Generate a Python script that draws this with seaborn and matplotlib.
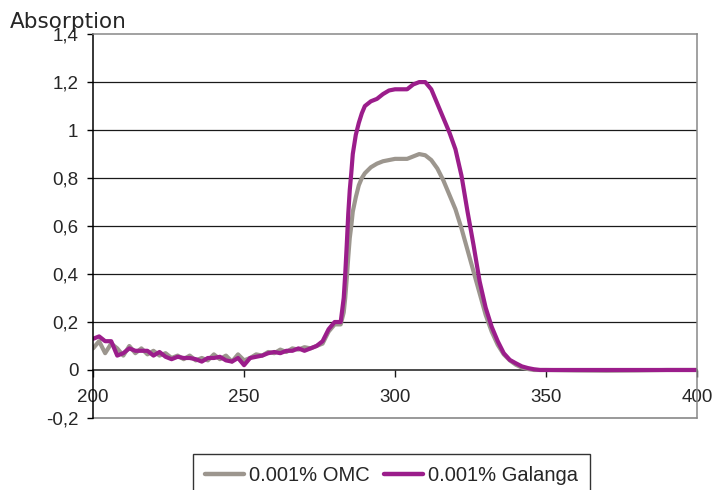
import pandas as pd
import numpy as np
import matplotlib
matplotlib.use("Agg")
import matplotlib.pyplot as plt
import seaborn as sns

# Absorption spectra
wavelength = [200, 202, 204, 206, 208, 210, 212, 214, 216, 218,
              220, 222, 224, 226, 228, 230, 232, 234, 236, 238,
              240, 242, 244, 246, 248, 250, 252, 254, 256, 258,
              260, 262, 264, 266, 268, 270, 272, 274, 276, 278,
              280, 282, 283, 283.5, 284, 284.5, 285, 285.5, 286, 287,
              288, 289, 290, 292, 294, 296, 298, 300, 302, 304,
              306, 308, 310, 312, 314, 316, 318, 320, 322, 324,
              326, 328, 330, 332, 334, 336, 338, 340, 342, 344,
              346, 348, 350, 360, 370, 380, 390, 400]

omc = [0.09, 0.12, 0.07, 0.11, 0.09, 0.06, 0.10, 0.07, 0.09, 0.065,
       0.08, 0.06, 0.07, 0.05, 0.06, 0.045, 0.06, 0.04, 0.05, 0.04,
       0.065, 0.045, 0.06, 0.035, 0.065, 0.04, 0.05, 0.065, 0.06, 0.075,
       0.07, 0.085, 0.075, 0.09, 0.085, 0.095, 0.09, 0.10, 0.11, 0.16,
       0.19, 0.19, 0.24, 0.30, 0.38, 0.47, 0.55, 0.60, 0.66, 0.72,
       0.77, 0.80, 0.82, 0.845, 0.86, 0.87, 0.875, 0.88, 0.88, 0.88,
       0.89, 0.90, 0.895, 0.875, 0.84, 0.79, 0.73, 0.67, 0.59, 0.50,
       0.41, 0.32, 0.23, 0.16, 0.105, 0.065, 0.04, 0.022, 0.01, 0.004,
       0.0, 0.0, 0.0, -0.002, -0.003, -0.002, 0.0, 0.0]

galanga = [0.13, 0.14, 0.12, 0.12, 0.06, 0.07, 0.09, 0.08, 0.08, 0.08,
           0.06, 0.075, 0.055, 0.045, 0.055, 0.05, 0.05, 0.045, 0.035, 0.05,
           0.05, 0.055, 0.04, 0.035, 0.05, 0.02, 0.05, 0.055, 0.06, 0.07,
           0.075, 0.07, 0.08, 0.08, 0.09, 0.08, 0.09, 0.10, 0.12, 0.17,
           0.20, 0.20, 0.30, 0.40, 0.52, 0.65, 0.75, 0.82, 0.90, 0.98,
           1.03, 1.07, 1.10, 1.12, 1.13, 1.15, 1.165, 1.17, 1.17, 1.17,
           1.19, 1.20, 1.20, 1.17, 1.11, 1.05, 0.99, 0.92, 0.81, 0.66,
           0.52, 0.37, 0.26, 0.18, 0.12, 0.07, 0.042, 0.028, 0.015, 0.008,
           0.003, 0.0, 0.0, 0.0, 0.0, 0.0, 0.0, 0.0]

series_names = ['0.001% OMC', '0.001% Galanga']
series_colors = ['#9c968e', '#9b1d8b']
x_ticks = [200, 250, 300, 350, 400]
y_ticks = [-0.2, 0, 0.2, 0.4, 0.6, 0.8, 1.0, 1.2, 1.4]
y_labels = ['-0,2', '0', '0,2', '0,4', '0,6', '0,8', '1', '1,2', '1,4']

df = pd.DataFrame({
    'wavelength': wavelength * 2,
    'absorption': omc + galanga,
    'sample': [series_names[0]] * len(omc) + [series_names[1]] * len(galanga),
})

sns.set_style('white')
plt.rcParams['font.family'] = ['Liberation Sans', 'DejaVu Sans']

fig = plt.figure(figsize=(7.16, 4.90), dpi=100)
ax = fig.add_axes([0.130, 0.147, 0.8435, 0.7834])

sns.lineplot(data=df, x='wavelength', y='absorption', hue='sample',
             palette=series_colors, hue_order=series_names,
             linewidth=3.0, sort=False, estimator=None, ax=ax, legend=False)

ax.set_xlim(200, 400)
ax.set_ylim(-0.2, 1.4)

# horizontal grid lines
for yv in [0.2, 0.4, 0.6, 0.8, 1.0, 1.2]:
    ax.axhline(yv, color='#1a1a1a', lw=0.9, zorder=0)
ax.axhline(-0.2, color='#888888', lw=1.2, zorder=0, clip_on=False)

ax.spines['bottom'].set_position(('data', 0))
ax.spines['bottom'].set_color('#1a1a1a')
ax.spines['bottom'].set_zorder(0)
ax.spines['left'].set_color('black')
ax.spines['top'].set_color('#888888')
ax.spines['right'].set_color('#888888')
for s in ax.spines.values():
    s.set_linewidth(1.1)

ax.set_xticks(x_ticks)
ax.set_xticklabels([str(v) for v in x_ticks])
ax.set_yticks(y_ticks)
ax.set_yticklabels(y_labels)
ax.tick_params(axis='x', direction='out', length=5, width=1, pad=9,
               labelsize=13.5, bottom=True, color='#1a1a1a')
ax.tick_params(axis='y', direction='out', length=4.5, width=1, pad=6,
               labelsize=13.5, left=True, color='black')
ax.set_xlabel('')
ax.set_ylabel('')

fig.text(10 / 716, 1 - 28 / 490, 'Absorption', fontsize=15.5,
         family='DejaVu Sans', va='baseline', ha='left')

# legend sits at the bottom edge and is cut off there, as in the original
handles = [plt.Line2D([], [], color=c, lw=3.2) for c in series_colors]
leg = fig.legend(handles, series_names, loc='upper center',
                 bbox_to_anchor=(0.547, 1 - 454 / 490), ncol=2,
                 fontsize=14.5, frameon=True, fancybox=False,
                 handlelength=1.95, handletextpad=0.25, columnspacing=0.7,
                 borderpad=0.6, borderaxespad=0)
leg.get_frame().set_edgecolor('black')
leg.get_frame().set_linewidth(1)

fig.savefig('out.png', dpi=100)
